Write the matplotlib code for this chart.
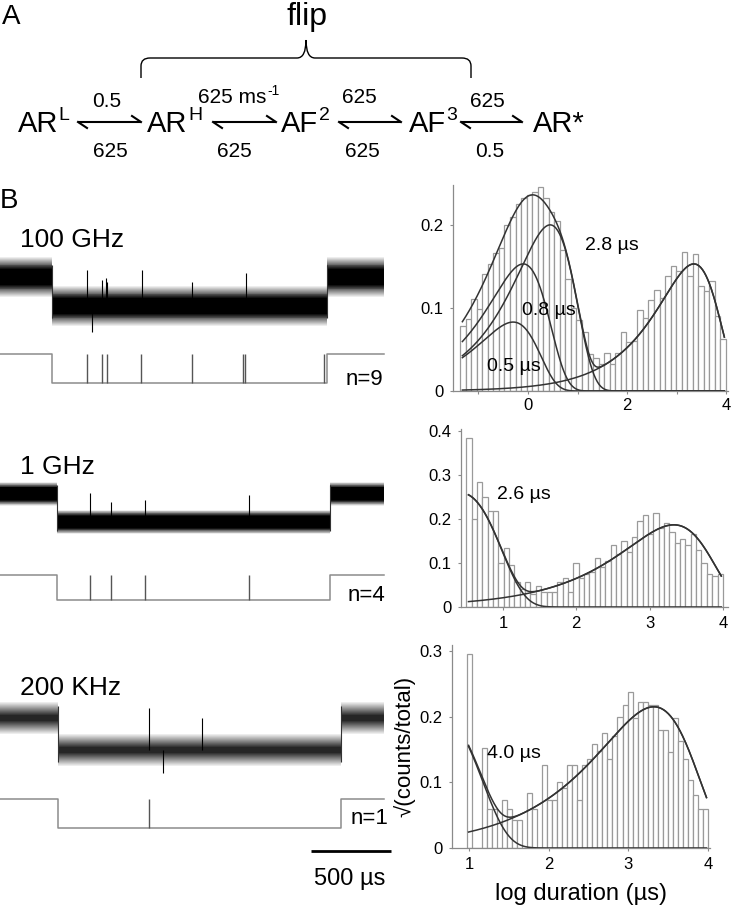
import numpy as np
import matplotlib
matplotlib.use('Agg')
import matplotlib.pyplot as plt
from matplotlib.path import Path
from matplotlib.patches import PathPatch

plt.rcParams['font.family'] = ['Liberation Sans', 'DejaVu Sans']

# ---------------- data ----------------
# Panel A: kinetic scheme
scheme_states = ['AR', 'AR', 'AF', 'AF', 'AR*']
scheme_sups = ['L', 'H', '2', '3', '']
rate_fwd = ['0.5', '625 ms', '625', '625']
rate_fwd_sup = ['', '-1', '', '']
rate_bwd = ['625', '625', '625', '0.5']

# Panel B: histograms (sqrt(counts/total) vs log10 duration in us)
h1_range = (-1.37, 4.0)
h1_heights = [0.078, 0.087, 0.111, 0.099, 0.141, 0.153, 0.166, 0.172, 0.200, 0.210,
              0.225, 0.232, 0.236, 0.240, 0.245, 0.232, 0.215, 0.205, 0.170, 0.135,
              0.100, 0.085, 0.071, 0.045, 0.040, 0.032, 0.046, 0.032, 0.046, 0.071,
              0.059, 0.060, 0.098, 0.088, 0.110, 0.122, 0.112, 0.138, 0.150, 0.145,
              0.167, 0.138, 0.165, 0.127, 0.120, 0.132, 0.090, 0.063]
h1_fit_tau_us = [0.5, 0.8, 2.8, 2240.0]
h1_fit_peak = [0.083, 0.153, 0.200, 0.153]

h2_range = (0.5, 4.0)
h2_heights = [0.385, 0.200, 0.285, 0.250, 0.218, 0.218, 0.100, 0.135, 0.095, 0.057,
              0.040, 0.058, 0.030, 0.048, 0.035, 0.035, 0.035, 0.058, 0.067, 0.035,
              0.100, 0.067, 0.075, 0.080, 0.112, 0.090, 0.105, 0.140, 0.120, 0.150,
              0.125, 0.160, 0.195, 0.210, 0.165, 0.215, 0.180, 0.190, 0.170, 0.145,
              0.155, 0.140, 0.165, 0.130, 0.100, 0.075, 0.070, 0.075]
h2_fit_tau_us = [2.6, 2140.0]
h2_fit_peak = [0.260, 0.187]

h3_range = (0.97, 4.0)
h3_heights = [0.296, 0.000, 0.000, 0.152, 0.060, 0.059, 0.000, 0.073, 0.060, 0.043,
              0.043, 0.000, 0.083, 0.059, 0.000, 0.127, 0.073, 0.073, 0.100, 0.092,
              0.127, 0.127, 0.073, 0.127, 0.135, 0.158, 0.148, 0.175, 0.135, 0.170,
              0.200, 0.218, 0.238, 0.198, 0.222, 0.222, 0.218, 0.218, 0.180, 0.180,
              0.146, 0.198, 0.163, 0.135, 0.103, 0.080, 0.060, 0.060]
h3_fit_tau_us = [4.0, 2090.0]
h3_fit_peak = [0.205, 0.215]

fit_labels = [['0.5 \u00b5s', '0.8 \u00b5s', '2.8 \u00b5s'], ['2.6 \u00b5s'], ['4.0 \u00b5s']]

# Panel B: single-channel traces
trace_labels = ['100 GHz', '1 GHz', '200 KHz']
trace_n = ['n=9', 'n=4', 'n=1']
record_us = 2530.0
open_start_us = [329, 361, 367]
open_end_us = [2070, 2089, 2159]
noise_halfwidth = [0.50, 0.42, 0.45]          # in units of the open amplitude
ideal_events_us = [[551, 646, 677, 892, 1215, 1538, 1551, 2051],
                   [570, 703, 918, 1576],
                   [943]]
raw_spike_t_us = [[553, 643, 671, 679, 897, 1213, 1557, 580],
                  [570, 703, 918, 1576],
                  [943, 1279, 1032]]
raw_spike_val = [[0.24, -0.10, -0.03, -0.17, 0.24, -0.17, 0.14, -1.90],
                 [0.05, -0.30, -0.20, -0.05],
                 [0.31, 0.00, -1.72]]
scale_bar_us = 500

# ---------------- figure ----------------
W, H = 733, 909
fig = plt.figure(figsize=(W / 100, H / 100), dpi=100)


def ax_px(l, t, r, b):
    a = fig.add_axes([l / W, 1 - b / H, (r - l) / W, (b - t) / H])
    a.set_facecolor('none')
    return a


ov = ax_px(0, 0, W, H)
ov.set_xlim(0, W)
ov.set_ylim(H, 0)
ov.axis('off')
fig.canvas.draw()
renderer = fig.canvas.get_renderer()


def right_edge(txt):
    return txt.get_window_extent(renderer).x1


# ---- Panel A ----
ov.text(2, 24, 'A', fontsize=20, va='baseline')
ov.text(307, 25, 'flip', fontsize=23, ha='center', va='baseline')
verts = [(141, 78), (141, 66), (141, 58), (150, 58), (297, 58), (306, 58), (306, 40),
         (306, 58), (315, 58), (462, 58), (471, 58), (471, 66), (471, 78)]
codes = [Path.MOVETO, Path.LINETO, Path.CURVE3, Path.CURVE3, Path.LINETO, Path.CURVE3, Path.CURVE3,
         Path.CURVE3, Path.CURVE3, Path.LINETO, Path.CURVE3, Path.CURVE3, Path.LINETO]
ov.add_patch(PathPatch(Path(verts, codes), facecolor='none', edgecolor='black', lw=1.0))

state_x = [18, 147, 281, 409, 533]
for s, sup, x in zip(scheme_states, scheme_sups, state_x):
    t = ov.text(x, 132, s, fontsize=21, va='baseline')
    if sup:
        ov.text(right_edge(t) + 0.5, 120, sup, fontsize=14, va='baseline')

arrow_x = [(78, 141), (213, 276), (339, 401), (461, 522)]
fwd_x = [107, 236, 359, 487]
fwd_y = [107, 103, 103, 107]
bwd_x = [110, 234, 362, 490]
for (x1, x2), lf, lfs, lb, fx, fy, bx in zip(arrow_x, rate_fwd, rate_fwd_sup, rate_bwd,
                                          fwd_x, fwd_y, bwd_x):
    y = 122
    ov.plot([x1, x2], [y, y], color='black', lw=1.5, solid_capstyle='butt')
    ov.plot([x2, x2 - 9], [y, y - 6], color='black', lw=1.5)
    ov.plot([x1, x1 + 9], [y, y + 6], color='black', lw=1.5)
    if lfs:
        t = ov.text(198, fy, lf, fontsize=15, ha='left', va='baseline')
        ov.text(right_edge(t) + 0.5, fy - 8, lfs, fontsize=10, va='baseline')
    else:
        ov.text(fx, fy, lf, fontsize=15, ha='center', va='baseline')
    ov.text(bx, 157, lb, fontsize=15, ha='center', va='baseline')

# ---- Panel B label ----
ov.text(0, 208, 'B', fontsize=20, va='baseline')


# ---- Histograms ----
def comp(x, tau, peak):
    u = 10 ** (x - np.log10(tau))
    return peak * np.sqrt(u * np.exp(1 - u))


hist_specs = [
    dict(rect=(453, 185, 728, 391), xlim=(-1.515, 4.04), ylim=(0, 0.248),
         heights=h1_heights, rng=h1_range, taus=h1_fit_tau_us, peaks=h1_fit_peak,
         xticks=[-1, 0, 1, 2, 3, 4], xtl=['', '0', '', '2', '', '4'],
         yticks=[0, 0.1, 0.2], ytl=['0', '0.1', '0.2'], xpad=2.5),
    dict(rect=(461, 429, 728, 607), xlim=(0.427, 4.07), ylim=(0, 0.405),
         heights=h2_heights, rng=h2_range, taus=h2_fit_tau_us, peaks=h2_fit_peak,
         xticks=[1, 2, 3, 4], xtl=['1', '2', '3', '4'],
         yticks=[0, 0.1, 0.2, 0.3, 0.4], ytl=['0', '0.1', '0.2', '0.3', '0.4'], xpad=4),
    dict(rect=(452, 645, 710, 848), xlim=(0.787, 4.025), ylim=(0, 0.309),
         heights=h3_heights, rng=h3_range, taus=h3_fit_tau_us, peaks=h3_fit_peak,
         xticks=[1, 2, 3, 4], xtl=['1', '2', '3', '4'],
         yticks=[0, 0.1, 0.2, 0.3], ytl=['0', '0.1', '0.2', '0.3'], xpad=4),
]

hist_axes = []
for sp in hist_specs:
    ax = ax_px(*sp['rect'])
    hist_axes.append(ax)
    n = len(sp['heights'])
    lo, hi = sp['rng']
    w = (hi - lo) / n
    edges = lo + w * np.arange(n)
    ax.bar(edges, sp['heights'], width=w, align='edge', facecolor='white',
           edgecolor='#9a9a9a', linewidth=0.9, zorder=1)
    xx = np.linspace(lo + w * 0.4, hi - w * 0.3, 300)
    comps = [comp(xx, t, p) for t, p in zip(sp['taus'], sp['peaks'])]
    for c in comps:
        ax.plot(xx, c, color='#333333', lw=1.1, zorder=3)
    total = np.sqrt(np.sum(np.array(comps) ** 2, axis=0))
    ax.plot(xx, total, color='#333333', lw=1.1, zorder=3)
    ax.set_xlim(*sp['xlim'])
    ax.set_ylim(*sp['ylim'])
    for s in ['top', 'right']:
        ax.spines[s].set_visible(False)
    for s in ['left', 'bottom']:
        ax.spines[s].set_color('#8a8a8a')
        ax.spines[s].set_linewidth(0.9)
    ax.set_xticks(sp['xticks'])
    ax.set_xticklabels(sp['xtl'])
    ax.set_yticks(sp['yticks'])
    ax.set_yticklabels(sp['ytl'])
    ax.tick_params(axis='x', length=2.5, width=0.8, color='#8a8a8a', labelsize=12, pad=sp['xpad'])
    ax.tick_params(axis='y', length=2.5, width=0.8, color='#8a8a8a', labelsize=12, pad=4.5)

hist_axes[0].text(1.15, 0.170, fit_labels[0][2], fontsize=14)
hist_axes[0].text(-0.12, 0.092, fit_labels[0][1], fontsize=14)
hist_axes[0].text(-0.82, 0.024, fit_labels[0][0], fontsize=14)
hist_axes[1].text(0.92, 0.245, fit_labels[1][0], fontsize=14)
hist_axes[2].text(1.23, 0.137, fit_labels[2][0], fontsize=14)
hist_axes[2].set_xlabel('log duration (\u00b5s)', fontsize=17, labelpad=8)
hist_axes[2].set_ylabel('\u221a(counts/total)', fontsize=16, labelpad=3)

# ---- Traces ----
raw_rects = [(0, 240, 400, 345), (0, 455, 400, 560), (0, 690, 400, 785)]
raw_ylims = [(-2.345, 1.276), (-2.357, 1.39), (-2.094, 0.875)]
ideal_rects = [(0, 345, 400, 395), (0, 565, 400, 610), (0, 790, 400, 860)]
ideal_ylims = [(-0.41, 1.31), (-0.4, 1.4), (-1.1, 1.31)]
label_pos = [(20, 247), (20, 474), (20, 695)]
n_pos = [(383, 385), (385, 601), (388, 824)]
# noise band density profile: outer extent (fraction of half-width) -> darkness
band_outer = [1.35, 1.0, 1.1]
band_core = [0.55, 0.55, 0.2]
band_core_grey = [0.0, 0.0, 0.15]

for k in range(3):
    ax = ax_px(*raw_rects[k])
    ax.set_xlim(0, record_us)
    ax.set_ylim(*raw_ylims[k])
    ax.axis('off')
    t = [0, open_start_us[k], open_end_us[k], 2430]
    lev = np.array([0.0, -1.0, 0.0, 0.0])
    hw = noise_halfwidth[k]
    fracs = np.linspace(band_outer[k], band_core[k], 14)
    greys = np.linspace(0.93, band_core_grey[k], 14)
    for frac, g in zip(fracs, greys):
        ax.fill_between(t, lev - hw * frac, lev + hw * frac, step='post',
                        color=(g, g, g), lw=0)
    ax.vlines([open_start_us[k], open_end_us[k]], -1 - hw * 0.8, hw * 0.8, color='#333333', lw=0.8)
    for ts, v in zip(raw_spike_t_us[k], raw_spike_val[k]):
        ax.vlines(ts, -1.0, v, color='black', lw=0.8)

    ai = ax_px(*ideal_rects[k])
    ai.set_xlim(0, record_us)
    ai.set_ylim(*ideal_ylims[k])
    ai.axis('off')
    ai.plot(t, [1, 0, 1, 1], drawstyle='steps-post', color='#8c8c8c', lw=1.1)
    ai.vlines(ideal_events_us[k], 0, 1, color='#555555', lw=1.0)
    if k == 2:
        ai.plot([record_us - 60 - scale_bar_us, record_us - 60],
                [-0.79, -0.79], color='black', lw=2.0, solid_capstyle='butt', clip_on=False)

    ov.text(label_pos[k][0], label_pos[k][1], trace_labels[k], fontsize=19, va='baseline')
    ov.text(n_pos[k][0], n_pos[k][1], trace_n[k], fontsize=16, ha='right', va='baseline')

ov.text(350, 885, '500 \u00b5s', fontsize=17, ha='center', va='baseline')

fig.savefig('out.png', dpi=100)
